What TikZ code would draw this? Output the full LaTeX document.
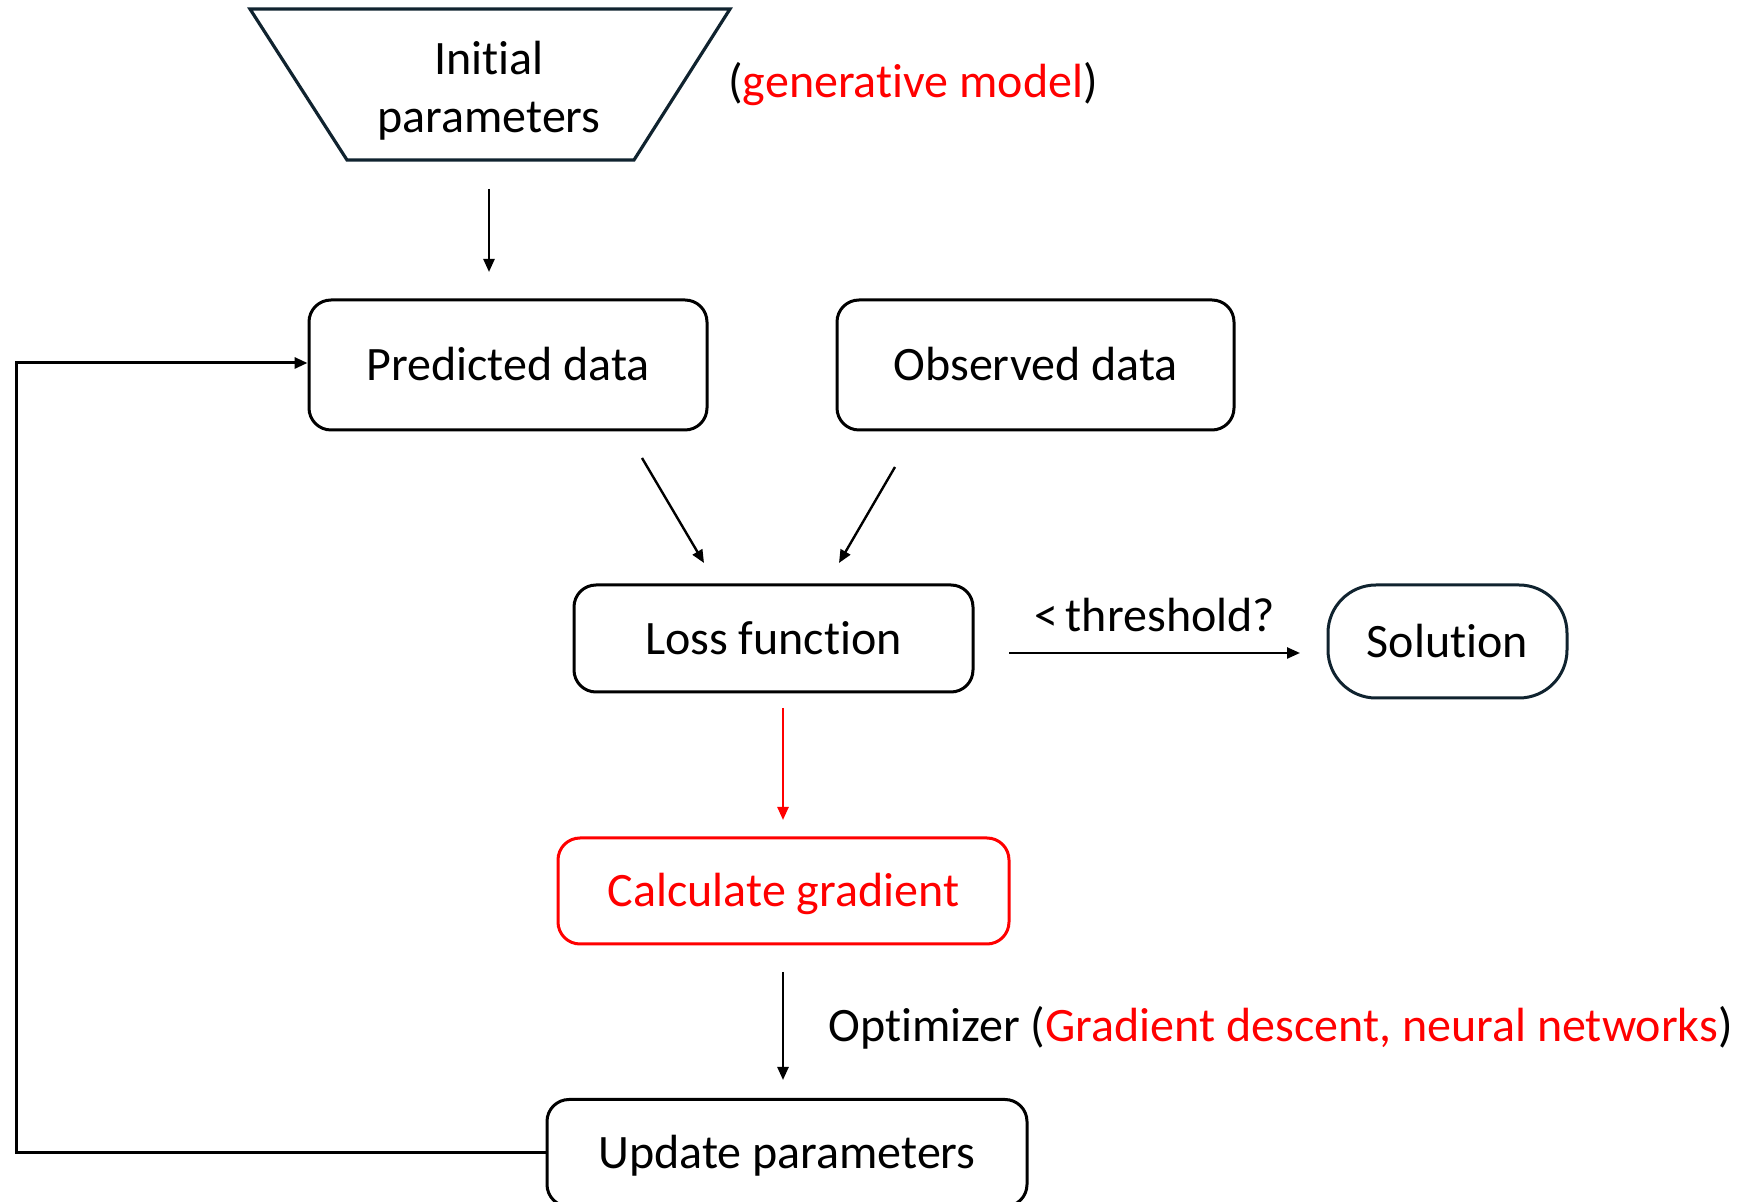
\documentclass[tikz,border=0pt]{standalone}
\usepackage{fontspec}
\setmainfont{Carlito}[RawFeature={-liga}]
\usetikzlibrary{arrows.meta,calc}
\definecolor{navy}{HTML}{10232F}
\definecolor{myred}{HTML}{FF0000}
\begin{document}
\begin{tikzpicture}[x=0.5pt,y=-0.5pt,
  every node/.style={font=\fontsize{24}{30}\selectfont, inner sep=0pt},
  box/.style={draw=black, line width=1.5pt, rounded corners=11pt, minimum width=#1, text height=19pt, text depth=3pt},
  arr/.style={line width=1.2pt, -{Triangle[length=6.5pt,width=5.5pt]}},
  fb/.style={line width=1.5pt, -{Triangle[length=6.5pt,width=5.5pt]}}]
\useasboundingbox (0,0) rectangle (1742,1202);
% initial parameters trapezoid
\draw[navy, line width=1.6pt, line join=miter] (250,9) -- (730,9) -- (634,160) -- (347,160) -- cycle;
\node[align=center] (init) at (489,91) {Initial\\[-1pt]parameters};
\node[anchor=west] (gen) at (728,84) {(\textcolor{myred}{generative model})};
% boxes
\node[box=199pt, minimum height=65pt] (pred) at (508,365) {Predicted data};
\node[box=198.5pt, minimum height=65pt] (obs) at (1035.5,365) {Observed data};
\node[box=199.5pt, minimum height=53.5pt] (loss) at (773.5,638.5) {Loss function};
\node[draw=navy, line width=1.5pt, rounded corners=24pt, minimum width=119.5pt, minimum height=56.5pt, text height=19pt, text depth=3pt] (sol) at (1447.5,641.5) {Solution};
\node[box=225.5pt, draw=myred, text=myred, minimum height=53pt] (calc) at (783.5,891) {Calculate gradient};
\node[box=240pt, minimum height=53.5pt] (upd) at (787,1153) {Update parameters};
% connectors
\coordinate (a1s) at (489,189);
\coordinate (a1e) at (489,272);
\draw[arr] (a1s) -- (a1e);
\coordinate (p1) at (642,458);
\coordinate (p2) at (704,563);
\draw[arr] (p1) -- (p2);
\coordinate (o1) at (895,467);
\coordinate (o2) at (839,563);
\draw[arr] (o1) -- (o2);
\coordinate (t1) at (1009,653);
\coordinate (t2) at (1300,653);
\draw[arr] (t1) -- node[above=10pt] (thr) {<\,threshold?} (t2);
\coordinate (r1) at (783,708);
\coordinate (r2) at (783,820);
\draw[arr, myred] (r1) -- (r2);
\coordinate (g1) at (783,972);
\coordinate (g2) at (783,1080);
\draw[arr] (g1) -- (g2);
\node[anchor=west] (opt) at (828,1028) {Optimizer (\textcolor{myred}{Gradient descent, neural networks})};
% feedback loop
\draw[fb] (upd.west) -- (16,1153) -- (16,363) -- (pred.west |- 0,363);
\end{tikzpicture}
\end{document}
